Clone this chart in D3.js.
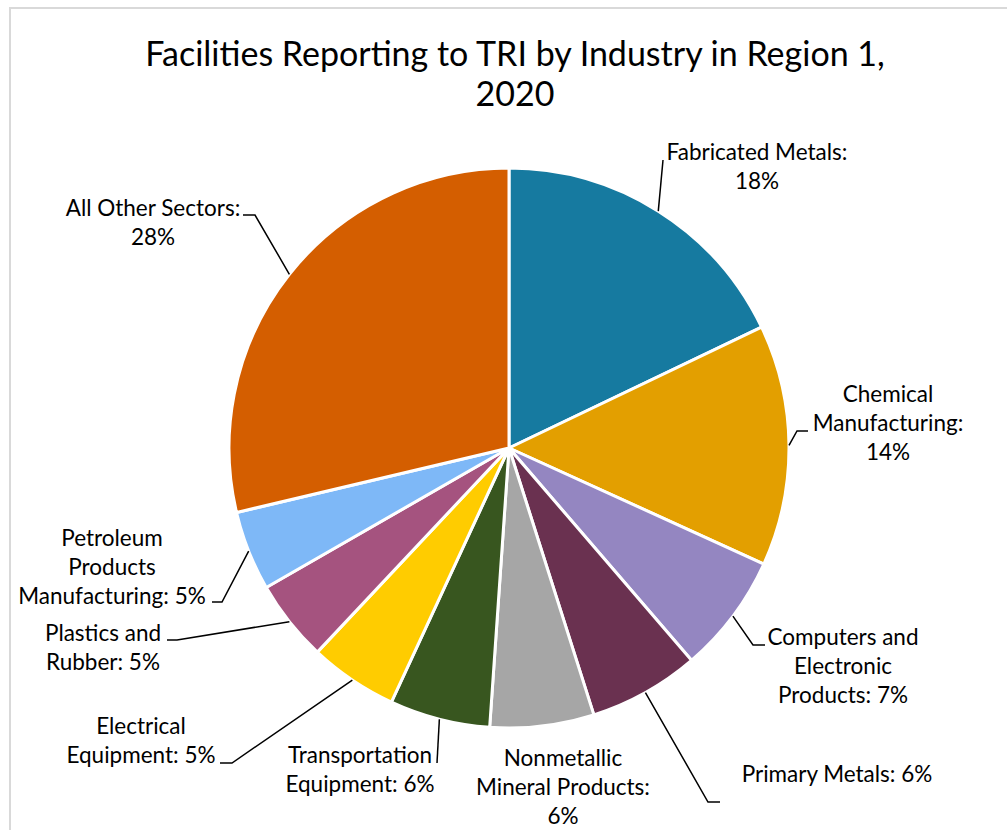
<!DOCTYPE html>
<html>
<head>
<meta charset="utf-8">
<script src="https://cdn.jsdelivr.net/npm/d3@7"></script>
<style>
  body { margin: 0; background: #fff; }
  text { font-family: Lato, "Noto Sans", sans-serif; fill: #000; }
</style>
</head>
<body>
<div id="chart"></div>
<script>
// data
const sectors = ["Fabricated Metals", "Chemical Manufacturing", "Computers and Electronic Products",
  "Primary Metals", "Nonmetallic Mineral Products", "Transportation Equipment",
  "Electrical Equipment", "Plastics and Rubber", "Petroleum Products Manufacturing", "All Other Sectors"]
const shares = [17.9, 13.9, 6.9, 6.4, 6.0, 5.8, 5.1, 4.7, 4.6, 28.7]
const pctLabels = ["18%", "14%", "7%", "6%", "6%", "6%", "5%", "5%", "5%", "28%"]
const colors = ["#167AA0", "#E39F00", "#9486C1", "#6A3150", "#A6A6A6", "#38561F",
  "#FFCC00", "#A5537F", "#7EB8F7", "#D45E00"]

// where each label sits (wrapped lines, centre x, first baseline) and its leader elbow
const labelLayout = [
  {lines: ["Fabricated Metals:", "18%"], x: 757, y: 160, leader: [[663, 160]]},
  {lines: ["Chemical", "Manufacturing:", "14%"], x: 888, y: 402, leader: [[797, 431], [808, 431]]},
  {lines: ["Computers and", "Electronic", "Products: 7%"], x: 843, y: 645, leader: [[753, 645], [765, 645]]},
  {lines: ["Primary Metals: 6%"], x: 837, y: 782, leader: [[708, 802], [720, 802]]},
  {lines: ["Nonmetallic", "Mineral Products:", "6%"], x: 563, y: 766, leader: null},
  {lines: ["Transportation", "Equipment: 6%"], x: 360, y: 763, leader: [[437, 763]]},
  {lines: ["Electrical", "Equipment: 5%"], x: 141, y: 734, leader: [[232, 763], [220, 763]]},
  {lines: ["Plastics and", "Rubber: 5%"], x: 103, y: 641, leader: [[177, 640], [167, 640]]},
  {lines: ["Petroleum", "Products", "Manufacturing: 5%"], x: 112, y: 546, leader: [[222, 602], [212, 602]]},
  {lines: ["All Other Sectors:", "28%"], x: 153, y: 216, leader: [[255, 215], [243, 215]]}
]

const width = 1007
const height = 830
const cx = 509, cy = 448, r = 280
const lineGap = 29

const svg = d3.select('#chart')
  .append('svg')
  .attr('width', width)
  .attr('height', height)

// chart frame (runs off the right and bottom)
svg.append('rect')
  .attr('x', 10)
  .attr('y', 8)
  .attr('width', 1100)
  .attr('height', 900)
  .attr('fill', 'none')
  .attr('stroke', '#d9d9d9')
  .attr('stroke-width', 2)

const title = svg.append('text')
  .attr('x', 515)
  .attr('y', 66)
  .attr('text-anchor', 'middle')
  .attr('font-size', 34)
title.append('tspan').attr('x', 515).text('Facilities Reporting to TRI by Industry in Region 1,')
title.append('tspan').attr('x', 515).attr('dy', 40).text('2020')

const rows = sectors.map((s, i) => ({sector: s, value: shares[i], pct: pctLabels[i], color: colors[i], lab: labelLayout[i]}))

const pie = d3.pie().sort(null).value(d => d.value)
const arc = d3.arc().innerRadius(0).outerRadius(r)
const edge = d3.arc().innerRadius(r).outerRadius(r)

const g = svg.append('g').attr('transform', `translate(${cx},${cy})`)
const arcs = pie(rows)

g.selectAll('path.slice')
  .data(arcs)
  .join('path')
  .attr('class', 'slice')
  .attr('d', arc)
  .attr('fill', d => d.data.color)
  .attr('stroke', '#fff')
  .attr('stroke-width', 3)
  .attr('stroke-linejoin', 'round')

// leader lines
const line = d3.line()
svg.selectAll('path.leader')
  .data(arcs.filter(d => d.data.lab.leader))
  .join('path')
  .attr('class', 'leader')
  .attr('d', d => {
    const p = edge.centroid(d)
    return line([[p[0] + cx, p[1] + cy], ...d.data.lab.leader])
  })
  .attr('fill', 'none')
  .attr('stroke', '#000')
  .attr('stroke-width', 1.5)

const labels = svg.selectAll('text.lbl')
  .data(arcs)
  .join('text')
  .attr('class', 'lbl')
  .attr('text-anchor', 'middle')
  .attr('font-size', 22.5)

labels.each(function(d) {
  const t = d3.select(this)
  d.data.lab.lines.forEach((ln, k) => {
    t.append('tspan')
      .attr('x', d.data.lab.x)
      .attr('y', d.data.lab.y + k * lineGap)
      .text(ln)
  })
})
</script>
</body>
</html>
